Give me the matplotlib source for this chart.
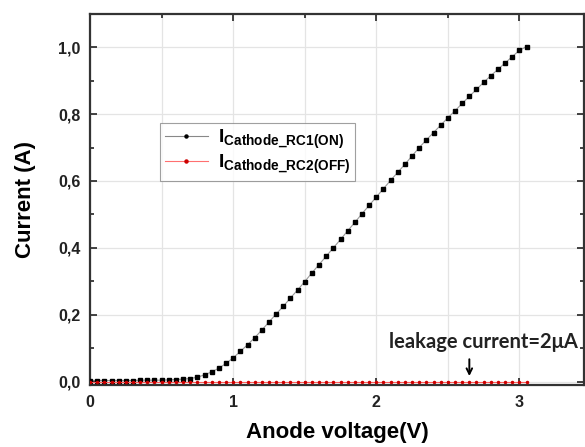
import matplotlib.pyplot as plt
import numpy as np
from matplotlib.lines import Line2D
from matplotlib.ticker import MultipleLocator, FuncFormatter

plt.rcParams['font.family'] = ['Liberation Sans', 'DejaVu Sans']
plt.rcParams['mathtext.fontset'] = 'custom'
plt.rcParams['mathtext.rm'] = 'Liberation Sans:bold'
plt.rcParams['mathtext.bf'] = 'Liberation Sans:bold'
plt.rcParams['mathtext.it'] = 'Liberation Sans:bold'

# anode voltage (V)
voltage = [0.00, 0.05, 0.10, 0.15, 0.20, 0.25, 0.30, 0.35, 0.40, 0.45,
           0.50, 0.55, 0.60, 0.65, 0.70, 0.75, 0.80, 0.85, 0.90, 0.95,
           1.00, 1.05, 1.10, 1.15, 1.20, 1.25, 1.30, 1.35, 1.40, 1.45,
           1.50, 1.55, 1.60, 1.65, 1.70, 1.75, 1.80, 1.85, 1.90, 1.95,
           2.00, 2.05, 2.10, 2.15, 2.20, 2.25, 2.30, 2.35, 2.40, 2.45,
           2.50, 2.55, 2.60, 2.65, 2.70, 2.75, 2.80, 2.85, 2.90, 2.95,
           3.00, 3.05]

# cathode current, RC1 on (A)
i_on = [0.003, 0.003, 0.003, 0.003, 0.003, 0.003, 0.003, 0.004, 0.004, 0.004,
        0.004, 0.005, 0.006, 0.007, 0.009, 0.013, 0.020, 0.029, 0.040, 0.054,
        0.071, 0.090, 0.110, 0.131, 0.154, 0.178, 0.202, 0.225, 0.250, 0.274,
        0.299, 0.325, 0.350, 0.375, 0.400, 0.425, 0.451, 0.476, 0.502, 0.527,
        0.552, 0.577, 0.602, 0.626, 0.650, 0.675, 0.700, 0.723, 0.745, 0.767,
        0.789, 0.810, 0.832, 0.853, 0.874, 0.895, 0.915, 0.934, 0.953, 0.972,
        0.991, 1.002]

# cathode current, RC2 off (A) - leakage ~2 uA
i_off = [2e-6, 2e-6, 2e-6, 2e-6, 2e-6, 2e-6, 2e-6, 2e-6, 2e-6, 2e-6,
         2e-6, 2e-6, 2e-6, 2e-6, 2e-6, 2e-6, 2e-6, 2e-6, 2e-6, 2e-6,
         2e-6, 2e-6, 2e-6, 2e-6, 2e-6, 2e-6, 2e-6, 2e-6, 2e-6, 2e-6,
         2e-6, 2e-6, 2e-6, 2e-6, 2e-6, 2e-6, 2e-6, 2e-6, 2e-6, 2e-6,
         2e-6, 2e-6, 2e-6, 2e-6, 2e-6, 2e-6, 2e-6, 2e-6, 2e-6, 2e-6,
         2e-6, 2e-6, 2e-6, 2e-6, 2e-6, 2e-6, 2e-6, 2e-6, 2e-6, 2e-6,
         2e-6, 2e-6]

fig = plt.figure(figsize=(5.85, 4.47), dpi=100)
ax = fig.add_axes([0.154, 0.139, 0.844, 0.83])

ax.plot(voltage, i_on, color='#999999', lw=0.8, marker='s', ms=3.0,
        mfc='black', mec='black', zorder=3)
ax.plot(voltage, i_off, color='#ff6060', lw=0.8, marker='o', ms=1.5,
        mfc='#cc0000', mec='#cc0000', zorder=4)

ax.set_xlim(0, 3.45)
ax.set_ylim(-0.01, 1.1)
ax.xaxis.set_major_locator(MultipleLocator(1))
ax.xaxis.set_minor_locator(MultipleLocator(0.5))
ax.yaxis.set_major_locator(MultipleLocator(0.2))
ax.yaxis.set_minor_locator(MultipleLocator(0.1))
ax.yaxis.set_major_formatter(FuncFormatter(lambda v, p: f'{v:.1f}'.replace('.', ',')))
ax.xaxis.set_major_formatter(FuncFormatter(lambda v, p: f'{v:.0f}'))

ax.tick_params(which='both', direction='in', top=True, right=True,
               labelsize=11.5, width=1.2, colors='#222222')
ax.tick_params(which='major', length=5, pad=7)
ax.tick_params(which='minor', length=3)
for lab in ax.get_xticklabels() + ax.get_yticklabels():
    lab.set_fontweight('bold')
for s in ax.spines.values():
    s.set_linewidth(1.6)
    s.set_color('#333333')

ax.grid(which='major', axis='y', color='#e4e4e4', lw=0.9)
ax.grid(which='both', axis='x', color='#e4e4e4', lw=0.9)
ax.set_axisbelow(True)

ax.set_xlabel('Anode voltage(V)', fontsize=16, fontweight='bold', labelpad=9)
ax.set_ylabel('Current (A)', fontsize=16, fontweight='bold', labelpad=16)

handles = [Line2D([], [], color='#888888', lw=0.8, marker='o', ms=2.2,
                  mfc='black', mec='black'),
           Line2D([], [], color='#ff7070', lw=0.8, marker='o', ms=2.2,
                  mfc='#cc0000', mec='#cc0000')]
labels = [r'$\mathbf{I_{Cathode\_RC1(ON)}}$', r'$\mathbf{I_{Cathode\_RC2(OFF)}}$']
leg = ax.legend(handles, labels, loc='upper left', bbox_to_anchor=(0.142, 0.706),
                fontsize=14, frameon=True, fancybox=False, handlelength=2.2,
                borderpad=0.25, labelspacing=0.1, handletextpad=0.5,
                borderaxespad=0)
leg.get_frame().set_edgecolor('#888888')
leg.get_frame().set_linewidth(0.8)

ax.annotate('', xy=(2.65, 0.008), xytext=(2.65, 0.075),
            arrowprops=dict(arrowstyle='->', color='black', lw=1.4))
ax.text(2.75, 0.117, 'leakage current=2\u03bcA', fontsize=14.5, fontweight='bold',
        family=['Lato', 'DejaVu Sans'], ha='center', va='center', color='#222222')

fig.savefig('out.png', dpi=100)
